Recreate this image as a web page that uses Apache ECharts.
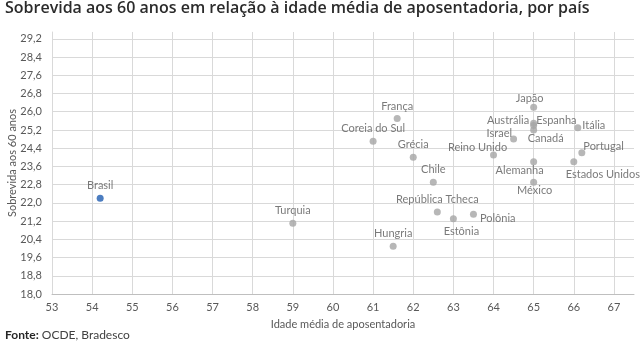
<!DOCTYPE html>
<html>
<head>
<meta charset="utf-8">
<script src="https://cdn.jsdelivr.net/npm/echarts@6/dist/echarts.min.js"></script>
<style>
  html, body { margin: 0; padding: 0; background: #ffffff; }
  #chart { width: 640px; height: 342px; }
</style>
</head>
<body>
<div id="chart"></div>
<script>
// Survival at age 60 versus average retirement age, by country
const countries = [
  'Brasil', 'Turquia', 'Hungria', 'França', 'Coreia do Sul', 'Grécia', 'Chile',
  'República Tcheca', 'Estônia', 'Polônia', 'Reino Unido', 'Israel', 'Japão',
  'Austrália', 'Espanha', 'Canadá', 'Alemanha', 'México', 'Itália', 'Portugal',
  'Estados Unidos'
];
const retirementAge = [
  54.2, 59.0, 61.5, 61.6, 61.0, 62.0, 62.5,
  62.6, 63.0, 63.5, 64.0, 64.5, 65.0,
  65.0, 65.0, 65.0, 65.0, 65.0, 66.1, 66.2,
  66.0
];
const survivalAt60 = [
  22.2, 21.1, 20.1, 25.7, 24.7, 24.0, 22.9,
  21.6, 21.3, 21.5, 24.1, 24.8, 26.2,
  25.5, 25.4, 25.2, 23.8, 22.9, 25.3, 24.2,
  23.8
];
const highlighted = 'Brasil';

const xTicks = { min: 53, max: 67.5, step: 1 };
const yTicks = { min: 18, max: 29.5, step: 0.8 };

// Where each country's name sits relative to its dot: side, then a nudge in px
const labelPlacement = {
  'Japão': ['top', -4, 4],
  'Austrália': ['left', 2, -3],
  'Espanha': ['right', -4, -5],
  'Canadá': ['bottom', 12, -4],
  'Israel': ['left', 5, -6],
  'Itália': ['right', -2, -2],
  'Portugal': ['right', -5, -6],
  'Estados Unidos': ['bottom', 29, 0],
  'Alemanha': ['bottom', -14, -4],
  'México': ['bottom', 1, -4],
  'Reino Unido': ['top', -16, 5],
  'Estônia': ['bottom', 8, 0],
  'Polônia': ['right', 0, 4]
};
const placeOf = name => labelPlacement[name] || ['top', 0, 0];

const GREY_DOT = '#a5a5a5';
const BLUE_DOT = '#1f5db0';
const TEXT = '#595959';
const FONT = 'Lato';

const points = countries.map((name, i) => ({
  name: name,
  value: [retirementAge[i], survivalAt60[i]],
  itemStyle: { color: name === highlighted ? BLUE_DOT : GREY_DOT },
  label: { position: placeOf(name)[0] }
}));

const fmt = v => v.toFixed(1).replace('.', ',');

const chart = echarts.init(document.getElementById('chart'), null, { renderer: 'canvas' });
chart.setOption({
  animation: false,
  backgroundColor: '#ffffff',
  title: {
    text: 'Sobrevida aos 60 anos em relação à idade média de aposentadoria, por país',
    left: 5,
    top: 0,
    padding: 0,
    textStyle: { fontFamily: 'Open Sans', fontWeight: 600, fontSize: 16, color: '#2b2b2b' }
  },
  grid: {
    left: 52, right: 6, top: 32, bottom: 48,
    containLabel: false,
    outerBoundsMode: 'none'
  },
  xAxis: {
    type: 'value',
    min: xTicks.min,
    max: xTicks.max,
    interval: xTicks.step,
    name: 'Idade média de aposentadoria',
    nameLocation: 'middle',
    nameGap: 25,
    nameMoveOverlap: false,
    nameTextStyle: { fontFamily: FONT, fontSize: 11, color: TEXT },
    axisLine: { show: true, lineStyle: { color: '#bfbfbf', width: 1 } },
    axisTick: { show: false },
    axisLabel: {
      fontFamily: FONT, fontSize: 11, color: TEXT, margin: 8,
      showMaxLabel: false,
      formatter: v => (Number.isInteger(v) ? String(v) : '')
    },
    splitLine: { show: true, showMaxLine: false, lineStyle: { color: '#d9d9d9', width: 1 } }
  },
  yAxis: {
    type: 'value',
    min: yTicks.min,
    max: yTicks.max,
    interval: yTicks.step,
    name: 'Sobrevida aos 60 anos',
    nameLocation: 'middle',
    nameGap: 34,
    nameMoveOverlap: false,
    nameTextStyle: { fontFamily: FONT, fontSize: 11, color: TEXT },
    axisLine: { show: true, lineStyle: { color: '#d9d9d9', width: 1 } },
    axisTick: { show: false },
    axisLabel: {
      fontFamily: FONT, fontSize: 11, color: TEXT, margin: 10,
      showMaxLabel: false,
      formatter: v => fmt(v)
    },
    splitLine: { show: true, showMaxLine: false, lineStyle: { color: '#d9d9d9', width: 1 } }
  },
  series: [{
    type: 'scatter',
    symbol: 'circle',
    symbolSize: 7,
    data: points,
    label: {
      show: true,
      formatter: p => p.name,
      distance: 3,
      fontFamily: FONT,
      fontSize: 11,
      lineHeight: 12,
      color: TEXT
    },
    // nudge each name off its default side
    labelLayout: p => {
      const place = placeOf(countries[p.dataIndex]);
      return { dx: place[1], dy: place[2], hideOverlap: false };
    },
    emphasis: { disabled: true }
  }],
  graphic: [{
    type: 'text',
    left: 5,
    top: 329,
    style: {
      text: '{b|Fonte:} OCDE, Bradesco',
      font: '12px Lato',
      fill: '#404040',
      rich: {
        b: { fontFamily: FONT, fontWeight: 700, fontSize: 12, fill: '#262626' }
      }
    }
  }]
});
</script>
</body>
</html>
